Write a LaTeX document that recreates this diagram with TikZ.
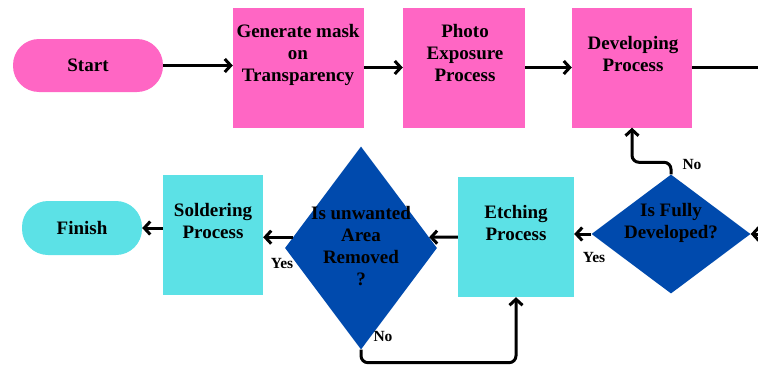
\documentclass[tikz,border=0pt]{standalone}
\usepackage{fontspec}
\setmainfont{Liberation Serif}
\newfontfamily\flowfont{Liberation Serif}
\usepackage{tikz}
\usetikzlibrary{calc, positioning}
\usetikzlibrary{shapes, arrows, arrows.meta}
\definecolor{procpink}{HTML}{FF66C4}
\definecolor{proccyan}{HTML}{5CE1E6}
\definecolor{decblue}{HTML}{004AAD}
\tikzset{
    auto, node distance=1.1cm and 1.1cm,% the picture uses x=1pt, y=-1pt, so y grows downwards
    procbox/.style={rectangle, minimum height=120pt, inner sep=0pt},
    termbox/.style={rectangle, rounded corners=26pt, inner sep=0pt, font=\flowfont\fontsize{19}{22}\selectfont\bfseries},
    decbox/.style={diamond, fill=decblue, inner sep=0pt},
    boxtext/.style={font=\flowfont\fontsize{19}{22}\selectfont\bfseries, align=center, inner sep=0pt},
    lbl/.style={font=\flowfont\fontsize{15.5}{17}\selectfont\bfseries, inner sep=0pt},
    flow/.style={line width=3pt, -{Straight Barb[length=6pt, width=13pt]}},
}

\begin{document}
\begin{tikzpicture}[x=1pt, y=-1pt]
    \useasboundingbox (0,0) rectangle (758,367);

    % top row
    \node[termbox, fill=procpink, minimum width=150pt, minimum height=53pt] (start) at (88,65.5) {Start};
    \node[procbox, fill=procpink, minimum width=131pt] (mask) at (298.5,67.5) {};
    \node[boxtext] (mask-t) at (298,55) {Generate mask\\on\\Transparency};
    \node[procbox, fill=procpink, minimum width=122pt] (photo) at (464,67.5) {};
    \node[boxtext] (photo-t) at (465,53) {Photo\\Exposure\\Process};
    \node[procbox, fill=procpink, minimum width=120pt] (dev) at (632,67.5) {};
    \node[boxtext] (dev-t) at (633,54) {Developing\\Process};
    \coordinate (devout) at (758,67.5);

    % bottom row
    \node[decbox, minimum width=159pt, minimum height=119pt] (fully) at (671,234) {};
    \node[boxtext] (fully-t) at (671,223) {Is Fully\\Developed?};
    \coordinate (fullin) at (758,234);
    \node[procbox, fill=proccyan, minimum width=116pt] (etch) at (516,237) {};
    \node[boxtext] (etch-t) at (516,223) {Etching\\Process};
    \node[decbox, minimum width=152pt, minimum height=203pt] (removed) at (361,248) {};
    \node[boxtext] (removed-t) at (361,246) {Is unwanted\\Area\\Removed\\?};
    \node[procbox, fill=proccyan, minimum width=100pt] (sold) at (213,235) {};
    \node[boxtext] (sold-t) at (213,221) {Soldering\\Process};
    \node[termbox, fill=proccyan, minimum width=120pt, minimum height=54pt] (finish) at (82,228) {Finish};

    % connectors
    \draw[flow] (start.east) -- (start.east -| mask.west);
    \draw[flow] (mask) -- (photo);
    \draw[flow] (photo) -- (dev);
    \draw[line width=3pt] (dev.east) -- (devout);
    \draw[flow] (fullin) -- (fully.east);
    \draw[flow] (fully.west) -- (fully.west -| etch.east) node[lbl] (yes-fully) at (594,257) {Yes};
    \draw[flow, rounded corners=7pt] (fully.north) -- ++(0,-12) -| (dev.south) node[lbl] (no-fully) at (692,164) {No};
    \draw[flow] (etch.west) -- (removed.9);
    \draw[flow] (removed.171) -- (removed.171 -| sold.east) node[lbl] (yes-removed) at (282,263) {Yes};
    \draw[flow, rounded corners=7pt] (removed.south) -- ++(0,13) -| (etch.south) node[lbl] (no-removed) at (383,336) {No};
    \draw[flow] (sold.west |- finish.east) -- (finish.east);
\end{tikzpicture}
\end{document}
